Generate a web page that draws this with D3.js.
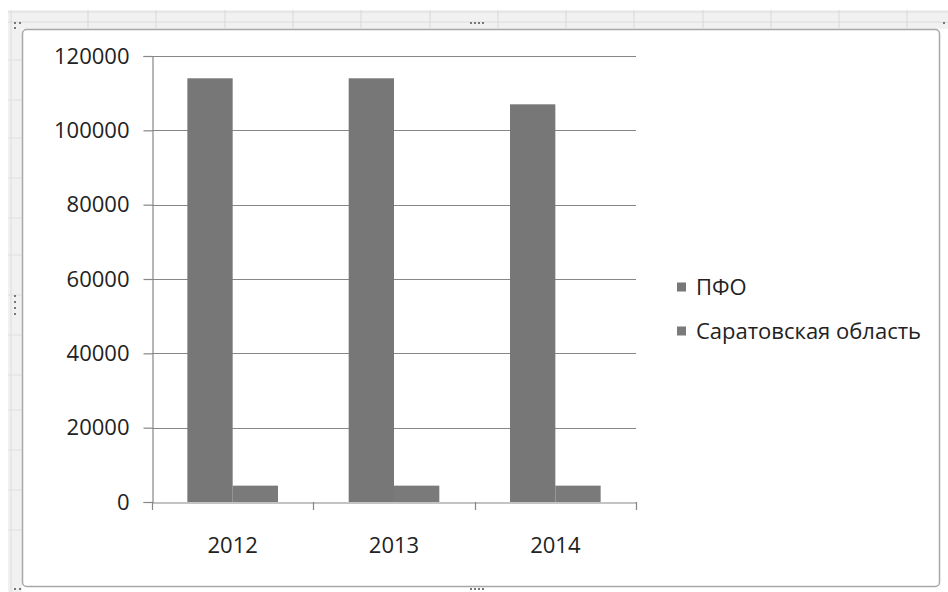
<!DOCTYPE html>
<html><head><meta charset="utf-8">
<script src="https://cdn.jsdelivr.net/npm/d3@7"></script>
<style>body{margin:0;background:#fff}svg{display:block}</style>
</head><body>
<svg id="c" width="948" height="592"></svg>
<script>
const categories = ["2012", "2013", "2014"];
const seriesNames = ["ПФО", "Саратовская область"];
const pfoValues = [114000, 114000, 107000];
const saratovValues = [4400, 4400, 4400];
const yTicks = [0, 20000, 40000, 60000, 80000, 100000, 120000];
const seriesColors = ["#777777", "#7a7a7a"];

const svg = d3.select("#c");
const font = "'Open Sans', 'DejaVu Sans', sans-serif";
const fs = 22;

// spreadsheet frame
const frame = svg.append("g");
frame.append("rect").attr("x", 0).attr("y", 0).attr("width", 948).attr("height", 592).attr("fill", "#ffffff");
frame.append("rect").attr("x", 8).attr("y", 10).attr("width", 940).attr("height", 19).attr("fill", "#f1f1f1");
frame.append("rect").attr("x", 8).attr("y", 10).attr("width", 14).attr("height", 582).attr("fill", "#f1f1f1");
[12, 22].forEach(y => frame.append("line").attr("x1", 8).attr("x2", 948).attr("y1", y).attr("y2", y).attr("stroke", "#dcdcdc"));
[88, 156, 225, 293, 361, 430, 498, 566, 634, 703, 771, 839, 907].forEach(x => frame.append("line").attr("x1", x).attr("x2", x).attr("y1", 10).attr("y2", 28).attr("stroke", "#d8d8d8"));
frame.append("line").attr("x1", 11).attr("x2", 11).attr("y1", 10).attr("y2", 592).attr("stroke", "#dcdcdc");
[60, 100, 138, 178, 218, 255, 295, 335, 375, 410, 450, 490, 530].forEach(y => frame.append("line").attr("x1", 8).attr("x2", 22).attr("y1", y).attr("y2", y).attr("stroke", "#e0e0e0"));
frame.append("rect").attr("x", 22.5).attr("y", 29.5).attr("width", 917).attr("height", 557).attr("rx", 4)
  .attr("fill", "#ffffff").attr("stroke", "#a8a8a8").attr("stroke-width", 1.5);
// handles
[[470, 22], [474, 22], [478, 22], [482, 22]].forEach(([x, y]) => frame.append("rect").attr("x", x).attr("y", y).attr("width", 2).attr("height", 2).attr("fill", "#777"));
[[470, 588], [474, 588], [478, 588], [482, 588]].forEach(([x, y]) => frame.append("rect").attr("x", x).attr("y", y).attr("width", 2).attr("height", 2).attr("fill", "#777"));
[[14, 295], [14, 301], [14, 307], [14, 313]].forEach(([x, y]) => frame.append("rect").attr("x", x).attr("y", y).attr("width", 2).attr("height", 2).attr("fill", "#777"));
[[14, 22], [19, 22], [14, 27], [943, 22], [14, 588], [19, 588]].forEach(([x, y]) => frame.append("rect").attr("x", x).attr("y", y).attr("width", 2).attr("height", 2).attr("fill", "#777"));

// chart
const x0 = d3.scaleBand().domain(categories).range([152, 636]);
const x1 = d3.scaleBand().domain(seriesNames).range([0, x0.bandwidth()]).paddingInner(0).paddingOuter(0.78);
const y = d3.scaleLinear().domain([0, 120000]).range([502, 56]);

const g = svg.append("g");
// gridlines
g.selectAll("line.grid").data(yTicks.filter(t => t > 0)).join("line")
  .attr("x1", 152).attr("x2", 636).attr("y1", d => Math.round(y(d)) + 0.5).attr("y2", d => Math.round(y(d)) + 0.5)
  .attr("stroke", "#878787").attr("stroke-width", 1.2);

const rows = categories.map((c, i) => ({ cat: c, vals: [pfoValues[i], saratovValues[i]] }));
g.selectAll("g.cat").data(rows).join("g")
  .attr("transform", d => `translate(${x0(d.cat)},0)`)
  .selectAll("rect").data(d => d.vals.map((v, j) => ({ s: seriesNames[j], v, j }))).join("rect")
  .attr("x", d => x1(d.s)).attr("width", x1.bandwidth())
  .attr("y", d => y(d.v)).attr("height", d => y(0) - y(d.v))
  .attr("fill", d => seriesColors[d.j]);

// y axis
const yAxis = d3.axisLeft(y).tickValues(yTicks).tickSize(9).tickPadding(14).tickFormat(d3.format("d"));
const ya = g.append("g").attr("transform", "translate(152.5,0)").call(yAxis);
ya.select(".domain").attr("stroke", "#878787").attr("stroke-width", 1.2);
ya.selectAll(".tick line").attr("stroke", "#878787").attr("stroke-width", 1.2);
ya.selectAll(".tick text").attr("font-family", font).attr("font-size", fs).attr("fill", "#222");

// x axis
const xAxis = d3.axisBottom(x0).tickSize(0).tickPadding(0);
const xa = g.append("g").attr("transform", "translate(0,502.5)").call(xAxis);
xa.select(".domain").attr("stroke", "#878787").attr("stroke-width", 1.2);
xa.selectAll(".tick text").attr("font-family", font).attr("font-size", fs).attr("fill", "#222").attr("dy", "0.35em").attr("y", 43);
// category separators
const sep = [x0.range()[0], ...categories.map(c => x0(c) + x0.bandwidth())];
g.selectAll("line.sep").data(sep).join("line")
  .attr("x1", d => Math.round(d) + 0.5).attr("x2", d => Math.round(d) + 0.5).attr("y1", 502).attr("y2", 510)
  .attr("stroke", "#878787").attr("stroke-width", 1.2);

// legend
const leg = svg.append("g").attr("transform", "translate(677,0)");
const ly = [287, 331];
seriesNames.forEach((n, i) => {
  leg.append("rect").attr("x", 0).attr("y", ly[i] - 4.5).attr("width", 9).attr("height", 9).attr("fill", seriesColors[i]);
  leg.append("text").attr("x", 19).attr("y", ly[i]).attr("dy", "0.35em").attr("font-family", font).attr("font-size", fs).attr("fill", "#222").text(n);
});
</script>
</body></html>
